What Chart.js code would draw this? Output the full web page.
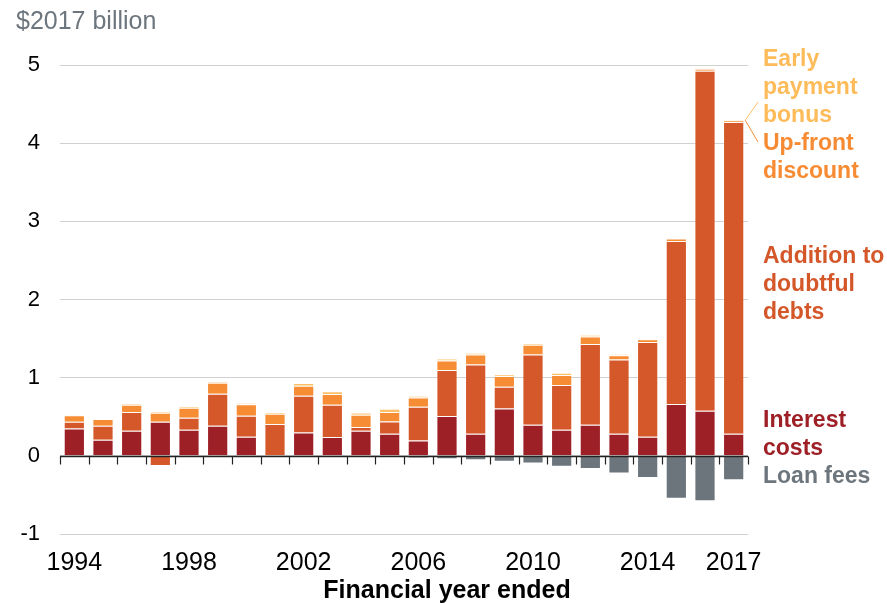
<!DOCTYPE html>
<html>
<head>
<meta charset="utf-8">
<script src="https://cdn.jsdelivr.net/npm/chart.js@4"></script>
<style>
  body { margin: 0; background: #fff; }
  canvas { display: block; }
</style>
</head>
<body>
<canvas id="myChart" width="887" height="603"></canvas>
<script>
// Financial year ended
const years = [1994, 1995, 1996, 1997, 1998, 1999, 2000, 2001, 2002, 2003, 2004, 2005,
               2006, 2007, 2008, 2009, 2010, 2011, 2012, 2013, 2014, 2015, 2016, 2017];

// $2017 billion
const interestCosts = [0.35, 0.205, 0.32, 0.436, 0.333, 0.385, 0.244, -0.017, 0.30, 0.24, 0.32, 0.282,
                       0.197, 0.509, 0.282, 0.605, 0.397, 0.333, 0.397, 0.282, 0.244, 0.662, 0.577, 0.282];
const doubtfulDebts = [0.085, 0.18, 0.24, -0.13, 0.154, 0.41, 0.27, 0.406, 0.47, 0.415, 0.05, 0.158,
                       0.43, 0.59, 0.885, 0.278, 0.9, 0.573, 1.035, 0.95, 1.213, 2.087, 4.35, 3.99];
const upfrontDiscount = [0.085, 0.085, 0.094, 0.115, 0.128, 0.14, 0.145, 0.132, 0.128, 0.137, 0.154, 0.12,
                         0.12, 0.12, 0.128, 0.137, 0.124, 0.128, 0.094, 0.056, 0.034, 0.03, 0.025, 0.015];
const earlyPayment = [0.005, 0.005, 0.01, 0.015, 0.02, 0.013, 0.013, 0.02, 0.034, 0.035, 0.03, 0.043,
                      0.017, 0.026, 0.025, 0.02, 0.021, 0.03, 0.021, 0.013, 0.01, 0.005, 0.005, 0.005];
const loanFees = [0, 0, 0, 0, 0, 0, 0, 0, 0, 0, 0, 0,
                  -0.034, -0.043, -0.056, -0.075, -0.098, -0.141, -0.167, -0.226, -0.282, -0.55, -0.58, -0.312];

const yTicks = [-1, 0, 1, 2, 3, 4, 5];

const colors = {
  interest: '#9e2027',
  doubtful: '#d4582a',
  upfront: '#f68c34',
  early: '#fdc068',
  fees: '#6c747c'
};

const sans = "'Liberation Sans', Arial, sans-serif";
const barPct = 0.74;

// zero line with small ticks between the years, labels on the right
const annotations = {
  id: 'annotations',
  afterDatasetsDraw(chart) {
    const { ctx, chartArea, scales: { x, y } } = chart;
    const y0 = Math.round(y.getPixelForValue(0)) + 0.5;
    const step = (chartArea.right - chartArea.left) / years.length;
    ctx.save();
    ctx.strokeStyle = '#222';
    ctx.lineWidth = 1.5;
    ctx.beginPath();
    ctx.moveTo(chartArea.left, y0);
    ctx.lineTo(chartArea.right, y0);
    ctx.stroke();
    ctx.lineWidth = 1.2;
    for (let i = 0; i <= years.length; i++) {
      const px = Math.round(chartArea.left + i * step) + 0.5;
      ctx.beginPath();
      ctx.moveTo(px, y0);
      ctx.lineTo(px, y0 + 8);
      ctx.stroke();
    }

    // leader lines from the last bar
    const last = years.length - 1;
    const top = interestCosts[last] + doubtfulDebts[last] + upfrontDiscount[last] + earlyPayment[last];
    const ax = x.getPixelForValue(last) + step * barPct / 2 + 1;
    const ay = y.getPixelForValue(top);
    ctx.lineWidth = 1;
    ctx.strokeStyle = colors.early;
    ctx.beginPath(); ctx.moveTo(ax, ay); ctx.lineTo(758, 102); ctx.stroke();
    ctx.strokeStyle = colors.upfront;
    ctx.beginPath(); ctx.moveTo(ax, ay); ctx.lineTo(758, 142); ctx.stroke();

    // series labels
    ctx.font = 'bold 23px ' + sans;
    ctx.textAlign = 'left';
    ctx.textBaseline = 'middle';
    const labels = [
      ['Early', 60, '#fdbb5a'], ['payment', 88, '#fdbb5a'], ['bonus', 116, '#fdbb5a'],
      ['Up-front', 144, '#f68b33'], ['discount', 172, '#f68b33'],
      ['Addition to', 257, '#d4572a'], ['doubtful', 285, '#d4572a'], ['debts', 313, '#d4572a'],
      ['Interest', 421, '#9e1f26'], ['costs', 449, '#9e1f26'],
      ['Loan fees', 477, '#6d757d']
    ];
    labels.forEach(([t, ly, c]) => {
      ctx.fillStyle = c;
      ctx.fillText(t, 763, ly);
    });

    // unit line under the (cropped) title
    ctx.font = '25px ' + sans;
    ctx.fillStyle = '#6d757d';
    ctx.fillText('$2017 billion', 16, 22);

    // x axis title, centred on the page
    ctx.font = 'bold 25px ' + sans;
    ctx.fillStyle = '#000';
    ctx.textAlign = 'center';
    ctx.fillText('Financial year ended', 447, 591);
    ctx.restore();
  }
};

const ctx = document.getElementById('myChart').getContext('2d');
const makeSet = (label, data, color) => ({
  label: label,
  data: data,
  backgroundColor: color,
  borderColor: 'rgba(255,255,255,0.25)',
  borderWidth: 1,
  barPercentage: barPct,
  categoryPercentage: 1
});

new Chart(ctx, {
  type: 'bar',
  data: {
    labels: years,
    datasets: [
      makeSet('Interest costs', interestCosts, colors.interest),
      makeSet('Addition to doubtful debts', doubtfulDebts, colors.doubtful),
      makeSet('Up-front discount', upfrontDiscount, colors.upfront),
      makeSet('Early payment bonus', earlyPayment, colors.early),
      makeSet('Loan fees', loanFees, colors.fees)
    ]
  },
  options: {
    responsive: false,
    animation: false,
    layout: { padding: { top: 65, right: 139, left: 0, bottom: 0 } },
    plugins: {
      legend: { display: false },
      tooltip: { enabled: false }
    },
    scales: {
      x: {
        stacked: true,
        grid: { display: false, drawTicks: false },
        border: { display: false },
        ticks: {
          autoSkip: false,
          maxRotation: 0,
          padding: 14,
          color: '#000',
          font: { size: 25, family: sans },
          callback: (v, i) => (i % 4 === 0 || i === years.length - 1) ? years[i] : ''
        },
        afterFit: (scale) => { scale.height = 69; }
      },
      y: {
        stacked: true,
        min: yTicks[0],
        max: yTicks[yTicks.length - 1],
        grid: { color: '#d0d0d0', drawTicks: false },
        border: { display: false },
        ticks: {
          stepSize: 1,
          padding: 20,
          color: '#000',
          font: { size: 22, family: sans }
        },
        afterFit: (scale) => { scale.width = 60; }
      }
    }
  },
  plugins: [annotations]
});
</script>
</body>
</html>
